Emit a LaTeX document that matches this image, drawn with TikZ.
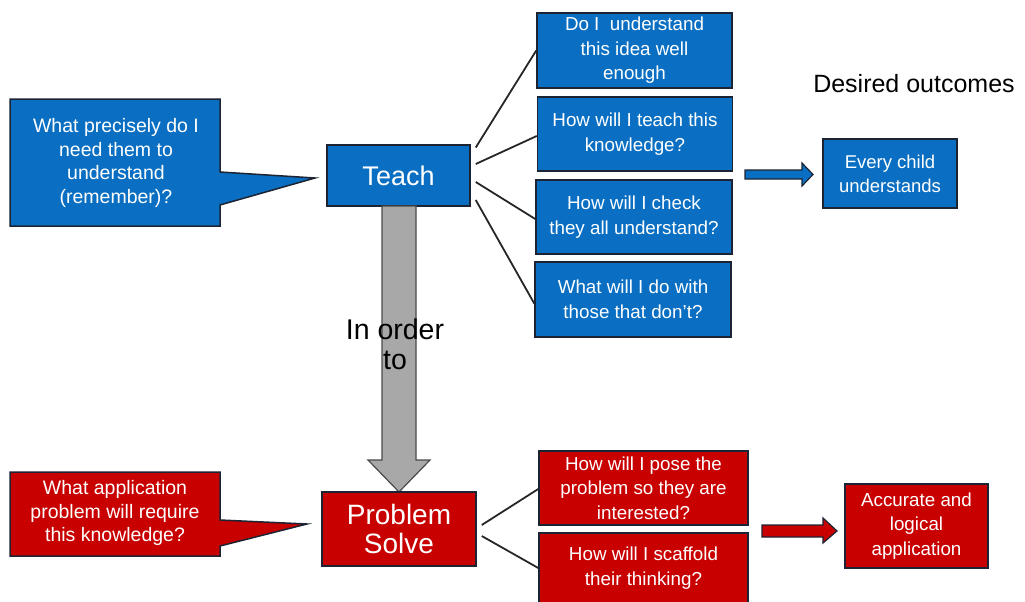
\documentclass[tikz,border=0pt]{standalone}
\usepackage{fontspec}
\setmainfont{Liberation Sans}
\usetikzlibrary{calc}
\definecolor{tblue}{HTML}{0A6FC2}
\definecolor{tred}{HTML}{C80000}
\definecolor{bord}{HTML}{1C2433}
\definecolor{agray}{HTML}{A8A8A8}
\definecolor{agrayb}{HTML}{4A4A4A}
\tikzset{
  box/.style={draw=bord, line width=1.5pt, text=white, align=center, inner sep=0pt, font=\fontsize{18.8}{24.5}\selectfont},
  bluebox/.style={box, fill=tblue},
  redbox/.style={box, fill=tred},
  bigtext/.style={font=\fontsize{28}{29}\selectfont},
  conn/.style={draw=black!85, line width=1.8pt},
  callout/.style={draw=bord, line width=1.5pt},
  calltext/.style={text=white, align=center, inner sep=0pt, font=\fontsize{19.5}{23.5}\selectfont},
  blockarrow/.style={draw=bord, line width=1.2pt},
}
\begin{document}
\begin{tikzpicture}[x=1pt,y=-1pt]
\useasboundingbox (0,0) rectangle (1025,602);

% blue callout
\draw[callout, fill=tblue] (10,99) -- (220,99) -- (220,172) -- (315,178) -- (220,205) -- (220,226) -- (10,226) -- cycle;
\node[calltext] (q1) at (116,163) {What precisely do I\\need them to\\understand\\(remember)?};

% Teach
\node[bluebox, font=\fontsize{27}{29}\selectfont, minimum width=143pt, minimum height=61pt] (teach) at (398.5,175.5) {Teach};

% question boxes
\node[bluebox, minimum width=195pt, minimum height=75pt] (b1) at (634.5,50.5) {Do I~ understand\\this idea well\\enough};
\node[bluebox, minimum width=195pt, minimum height=74pt] (b2) at (635,134) {How will I teach this\\knowledge?};
\node[bluebox, minimum width=196pt, minimum height=74pt] (b3) at (634,217) {How will I check\\they all understand?};
\node[bluebox, minimum width=196pt, minimum height=75pt] (b4) at (633,299.5) {What will I do with\\those that don't?};

\draw[conn] ([shift={(5,-28)}]teach.east) -- (b1.west);
\draw[conn] ([shift={(5,-11.5)}]teach.east) -- ([yshift=-2pt]b2.west);
\draw[conn] ([shift={(5,6.5)}]teach.east) -- ([yshift=-2pt]b3.west);
\draw[conn] ([shift={(5,24.5)}]teach.east) -- ([yshift=-4pt]b4.west);

% desired outcomes
\node[font=\fontsize{25}{28}\selectfont, inner sep=0pt] (des) at (914,84) {Desired outcomes};
\node[bluebox, font=\fontsize{18.5}{24}\selectfont, minimum width=134pt, minimum height=69pt] (every) at (890,173.5) {Every child\\understands};
\coordinate (ba) at (745,175);
\draw[blockarrow, fill=tblue] (ba) ++(0,-5) -- ++(57,0) -- ++(0,-7) -- ++(11,11.5) -- ++(-11,11.5) -- ++(0,-7) -- ++(-57,0) -- cycle;

% gray arrow
\draw[fill=agray, draw=agrayb, line width=1.2pt] (382,206) -- (416,206) -- (416,460) -- (430,460) -- (399,492) -- (368,460) -- (382,460) -- cycle;
\node[font=\fontsize{28.5}{30}\selectfont, align=center, inner sep=0pt] (ord) at (395,344) {In order\\to};

% red callout
\draw[callout, fill=tred] (10,472) -- (220,472) -- (220,520) -- (307,524) -- (220,546) -- (220,556) -- (10,556) -- cycle;
\node[calltext] (q2) at (115,513) {What application\\problem will require\\this knowledge?};

% Problem Solve
\node[redbox, bigtext, minimum width=154pt, minimum height=74pt] (ps) at (399,529) {Problem\\Solve};

\node[redbox, minimum width=209pt, minimum height=74pt] (pb1) at (643.5,488) {How will I pose the\\problem so they are\\interested?};
\node[redbox, minimum width=209pt, minimum height=70pt] (pb2) at (643.5,568) {How will I scaffold\\their thinking?};

\draw[conn] ([shift={(5,-4)}]ps.east) -- ([yshift=-1pt]pb1.west);
\draw[conn] ([shift={(5,7)}]ps.east) -- (pb2.west);

\node[redbox, minimum width=143pt, minimum height=84pt] (acc) at (916.5,526) {Accurate and\\logical\\application};
\coordinate (ra) at (762,531);
\draw[blockarrow, fill=tred] (ra) ++(0,-6) -- ++(61,0) -- ++(0,-7) -- ++(14,13) -- ++(-14,12) -- ++(0,-6) -- ++(-61,0) -- cycle;
\end{tikzpicture}
\end{document}
